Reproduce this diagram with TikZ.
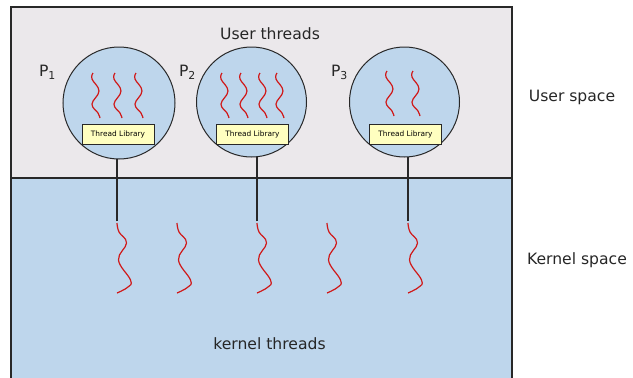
\documentclass[tikz,border=0pt]{standalone}
\usepackage{fontspec}
\setmainfont{DejaVu Sans}
\definecolor{userbg}{RGB}{235,232,235}
\definecolor{kernelbg}{RGB}{190,214,236}
\definecolor{libbg}{RGB}{255,255,192}
\definecolor{threadred}{RGB}{208,24,24}
\definecolor{edgegray}{RGB}{40,40,40}

\begin{document}
\begin{tikzpicture}[x=1pt, y=-1pt,
    every node/.style={inner sep=0pt, outer sep=0pt},
    label/.style={font=\fontsize{15.6}{18}\selectfont, anchor=base, text=black!85},
    proc/.style={circle, draw=edgegray, line width=1pt, fill=kernelbg, minimum size=110pt},
    threadlib/.style={rectangle, draw=edgegray, line width=0.8pt, fill=libbg, minimum width=72pt, minimum height=20pt, font=\fontsize{7.4}{9}\selectfont},
    thread/.style={draw=threadred, line width=1.2pt, line join=round},
    link/.style={draw=edgegray, line width=1.2pt},
    uthread/.pic={\draw[thread] plot[smooth, tension=0.7] coordinates {(0,0) (-1,6) (6,18) (-1,31) (5,40) (7,45)};},
    kthread/.pic={\draw[thread] plot[smooth, tension=0.7] coordinates {(0,0) (2,9) (9.5,20) (1.5,37) (13.5,57) (11,64) (0,70)};
        \coordinate (-top) at (0,-2);}
]
    \useasboundingbox (0,0) rectangle (633,378);
    % user and kernel space
    \fill[userbg] (11,7) rectangle (512,178);
    \fill[kernelbg] (11,178) rectangle (512,378);
    \draw[edgegray, line width=1.3pt] (11,378) -- (11,7) -- (512,7) -- (512,378);
    \draw[edgegray, line width=1.2pt] (11,178) -- (512,178);

    \node[label] (ut) at (270,39) {User threads};
    \node[label] (us) at (572,101) {User space};
    \node[label] (ks) at (577,264) {Kernel space};
    \node[label] (kt) at (269.5,349) {kernel threads};

    % processes
    \node[proc, minimum size=112pt] (p1) at (119,103) {};
    \node[proc] (p2) at (251.5,102) {};
    \node[proc] (p3) at (404.5,102) {};
    \node[label, anchor=base west] (l1) at (39,76) {P\textsubscript{1}};
    \node[label, anchor=base west] (l2) at (179,76) {P\textsubscript{2}};
    \node[label, anchor=base west] (l3) at (331,76) {P\textsubscript{3}};

    \node[threadlib] (tl1) at (118,134) {Thread Library};
    \node[threadlib] (tl2) at (252.5,134.5) {Thread Library};
    \node[threadlib] (tl3) at (405.5,134) {Thread Library};

    % user threads
    \foreach \x in {93,115,136} \pic at (\x,73) {uthread};
    \foreach \x in {222,241,260,277} \pic at (\x,73) {uthread};
    \foreach \x in {387,413} \pic at (\x,71) {uthread};

    % kernel threads
    \pic (k1) at (117,223) {kthread};
    \pic (k2) at (177,223) {kthread};
    \pic (k3) at (257,223) {kthread};
    \pic (k4) at (327,223) {kthread};
    \pic (k5) at (408,223) {kthread};

    % mapping
    \draw[link] (k1-top) -- (k1-top |- p1.south);
    \draw[link] (k3-top) -- (k3-top |- p2.south);
    \draw[link] (k5-top) -- (k5-top |- p3.south);
\end{tikzpicture}
\end{document}
